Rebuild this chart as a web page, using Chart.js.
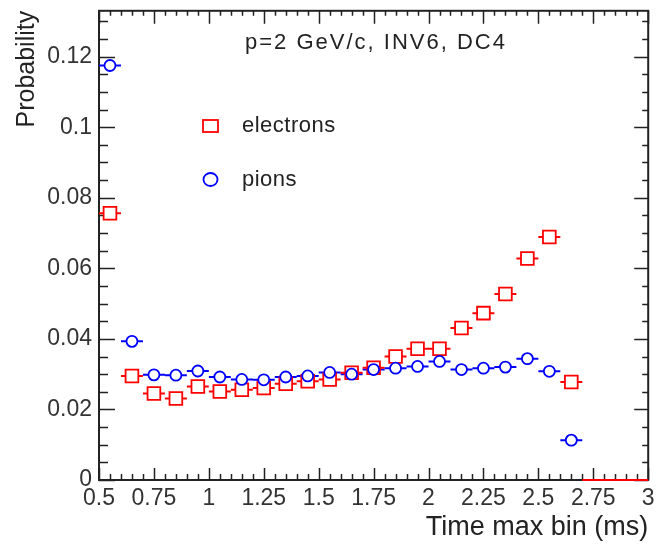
<!DOCTYPE html>
<html>
<head>
<meta charset="utf-8">
<script src="https://cdn.jsdelivr.net/npm/chart.js@4.4.1/dist/chart.umd.min.js"></script>
<style>
    html, body { margin: 0; padding: 0; background: #fff; }
    canvas { display: block; }
</style>
</head>
<body>
<canvas id="probChart" width="659" height="544"></canvas>
<script>
// bin centres of "time max bin" (bins are 0.1 wide)
const binCenters = [0.55, 0.65, 0.75, 0.85, 0.95, 1.05, 1.15, 1.25, 1.35, 1.45, 1.55, 1.65, 1.75,
    1.85, 1.95, 2.05, 2.15, 2.25, 2.35, 2.45, 2.55, 2.65, 2.75, 2.85, 2.95];
const binHalfWidth = 0.05;

const electrons = [0.0756, 0.0295, 0.0245, 0.0231, 0.0265, 0.0251, 0.0256, 0.0261, 0.0273, 0.0280,
    0.0285, 0.0304, 0.0318, 0.0350, 0.0372, 0.0372, 0.0431, 0.0473, 0.0527, 0.0628, 0.0689, 0.0278,
    0, 0, 0];
const pions = [0.1175, 0.0393, 0.0298, 0.0297, 0.0309, 0.0292, 0.0285, 0.0284, 0.0292, 0.0295,
    0.0305, 0.0300, 0.0313, 0.0317, 0.0322, 0.0336, 0.0313, 0.0317, 0.0320, 0.0344, 0.0308, 0.0113,
    null, null, null];

const xTicks = [0.5, 0.75, 1, 1.25, 1.5, 1.75, 2, 2.25, 2.5, 2.75, 3];
const xTickLabels = ['0.5', '0.75', '1', '1.25', '1.5', '1.75', '2', '2.25', '2.5', '2.75', '3'];
const yTicks = [0, 0.02, 0.04, 0.06, 0.08, 0.1, 0.12];
const yTickLabels = ['0', '0.02', '0.04', '0.06', '0.08', '0.1', '0.12'];

const RED = '#ff0000';
const BLUE = '#0000ff';
const FONT = "'Liberation Sans', Arial, sans-serif";

Chart.defaults.font.family = FONT;

function toPoints(values) {
    return binCenters
        .map((x, i) => ({ x, y: values[i] }))
        .filter(p => p.y !== null);
}

// ROOT style frame, inner ticks, horizontal bin error bars, legend and label
const rootFrame = {
    id: 'rootFrame',
    beforeDatasetsDraw(chart) {
        const { ctx, chartArea: { left, right, top, bottom }, scales: { x, y } } = chart;
        ctx.save();
        ctx.strokeStyle = '#222';
        ctx.lineWidth = 2;
        ctx.strokeRect(left, top, right - left, bottom - top);

        ctx.lineWidth = 1.5;
        ctx.beginPath();
        // x ticks (bottom + top)
        for (let v = 0.5; v <= 3.0001; v += 0.05) {
            const px = Math.round(x.getPixelForValue(v)) + 0.5;
            const major = xTicks.some(t => Math.abs(t - v) < 1e-6);
            const lb = major ? 12 : 6;
            const lt = major ? 13 : 5;
            ctx.moveTo(px, bottom); ctx.lineTo(px, bottom - lb);
            ctx.moveTo(px, top); ctx.lineTo(px, top + lt);
        }
        // y ticks (left + right)
        for (let v = 0; v <= y.max + 1e-6; v += 0.005) {
            const py = Math.round(y.getPixelForValue(v)) + 0.5;
            const major = yTicks.some(t => Math.abs(t - v) < 1e-6);
            const ll = major ? 16 : 9;
            const lr = major ? 14 : 6;
            ctx.moveTo(left, py); ctx.lineTo(left + ll, py);
            ctx.moveTo(right, py); ctx.lineTo(right - lr, py);
        }
        ctx.stroke();

        // horizontal error bars = bin width
        chart.data.datasets.forEach(ds => {
            ctx.strokeStyle = ds.borderColor;
            ctx.lineWidth = 2;
            ctx.beginPath();
            ds.data.forEach(p => {
                const py = y.getPixelForValue(p.y);
                ctx.moveTo(x.getPixelForValue(p.x - binHalfWidth), py);
                ctx.lineTo(x.getPixelForValue(p.x + binHalfWidth), py);
            });
            ctx.stroke();
        });
        ctx.restore();
    },
    afterDraw(chart) {
        const { ctx } = chart;
        ctx.save();
        ctx.fillStyle = '#222';
        ctx.textBaseline = 'middle';
        ctx.font = '22px ' + FONT;
        ctx.letterSpacing = '2px';
        ctx.fillText('p=2 GeV/c, INV6, DC4', 245, 43);
        ctx.letterSpacing = '0.5px';

        ctx.lineWidth = 1.8;
        ctx.strokeStyle = RED;
        ctx.strokeRect(203, 120, 15, 12);
        ctx.fillText('electrons', 242, 126);

        ctx.strokeStyle = BLUE;
        ctx.beginPath();
        ctx.ellipse(210.5, 179.5, 7, 6.5, 0, 0, Math.PI * 2);
        ctx.stroke();
        ctx.fillText('pions', 242, 180);
        ctx.restore();
    }
};

new Chart(document.getElementById('probChart'), {
    type: 'scatter',
    data: {
        datasets: [
            {
                label: 'pions',
                data: toPoints(pions),
                borderColor: BLUE,
                backgroundColor: '#fff',
                pointStyle: 'circle',
                pointRadius: 5.5,
                pointBorderWidth: 1.8
            },
            {
                label: 'electrons',
                data: toPoints(electrons),
                borderColor: RED,
                backgroundColor: '#fff',
                pointStyle: 'rect',
                pointRadius: c => (c.raw && c.raw.y === 0 ? 0 : 9),
                pointBorderWidth: 1.8
            }
        ]
    },
    options: {
        responsive: false,
        animation: false,
        layout: { padding: { left: 0, right: 8, top: 10, bottom: 0 } },
        plugins: {
            legend: { display: false },
            tooltip: { enabled: false }
        },
        scales: {
            x: {
                type: 'linear',
                min: 0.5,
                max: 3,
                grid: { display: false, drawTicks: false },
                border: { display: false },
                afterBuildTicks: s => { s.ticks = xTicks.map(v => ({ value: v })); },
                afterFit: s => {
                    s.height = 64;
                    s.paddingLeft = 0;
                    s.paddingRight = 0;
                },
                ticks: {
                    autoSkip: false,
                    maxRotation: 0,
                    padding: 5,
                    color: '#333',
                    font: { size: 23 },
                    callback: (v, i) => xTickLabels[i]
                },
                title: {
                    display: true,
                    text: 'Time max bin (ms)',
                    align: 'end',
                    color: '#222',
                    font: { size: 27 },
                    padding: { top: 0, bottom: 0 }
                }
            },
            y: {
                type: 'linear',
                min: 0,
                max: 0.133,
                grid: { display: false, drawTicks: false },
                border: { display: false },
                afterBuildTicks: s => { s.ticks = yTicks.map(v => ({ value: v })); },
                afterFit: s => {
                    s.width = 99;
                    s.paddingTop = 0;
                    s.paddingBottom = 0;
                },
                ticks: {
                    autoSkip: false,
                    padding: 7,
                    color: '#333',
                    font: { size: 23 },
                    callback: (v, i) => yTickLabels[i]
                },
                title: {
                    display: true,
                    text: 'Probability',
                    align: 'end',
                    color: '#222',
                    font: { size: 25 },
                    padding: { top: 12, bottom: 0 }
                }
            }
        }
    },
    plugins: [rootFrame]
});
</script>
</body>
</html>
